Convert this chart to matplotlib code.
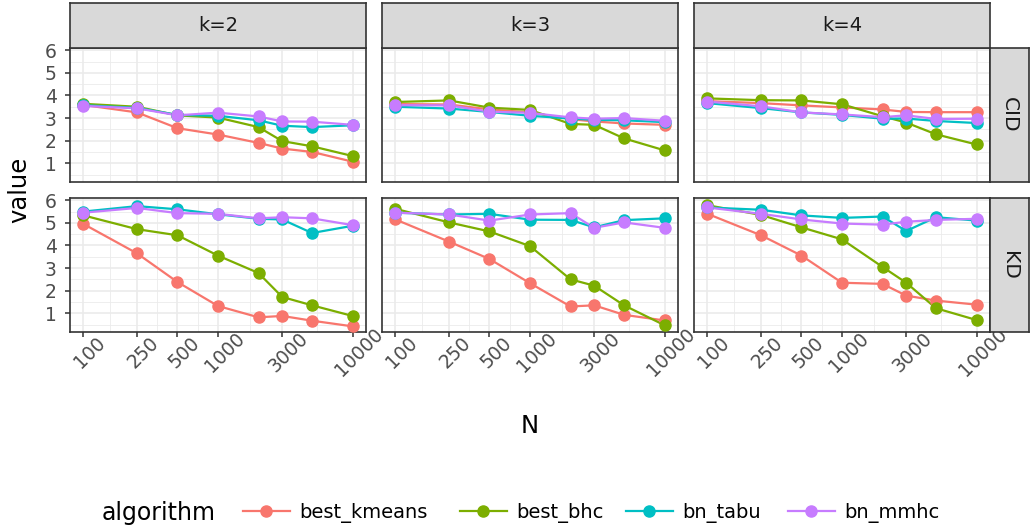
import matplotlib
matplotlib.use("Agg")
import matplotlib.pyplot as plt
from matplotlib.lines import Line2D
import numpy as np

plt.rcParams['font.family'] = ['DejaVu Sans']

# sample sizes and facet labels
n_values = [100, 250, 500, 1000, 2000, 3000, 5000, 10000]
n_ticks = [100, 250, 500, 1000, 3000, 10000]
k_labels = ["k=2", "k=3", "k=4"]
metric_labels = ["CID", "KD"]
algorithms = ["best_kmeans", "best_bhc", "bn_tabu", "bn_mmhc"]
colors = ["#F8766D", "#7CAE00", "#00BFC4", "#C77CFF"]

# CID, k=2
cid_k2_kmeans = [3.58, 3.25, 2.55, 2.27, 1.90, 1.65, 1.50, 1.07]
cid_k2_bhc = [3.63, 3.50, 3.12, 3.02, 2.60, 1.98, 1.75, 1.32]
cid_k2_tabu = [3.57, 3.45, 3.14, 3.10, 2.90, 2.66, 2.60, 2.68]
cid_k2_mmhc = [3.54, 3.43, 3.12, 3.24, 3.07, 2.85, 2.84, 2.70]
# CID, k=3
cid_k3_kmeans = [3.62, 3.60, 3.38, 3.25, 2.95, 2.85, 2.76, 2.70]
cid_k3_bhc = [3.71, 3.78, 3.46, 3.36, 2.74, 2.70, 2.10, 1.57]
cid_k3_tabu = [3.50, 3.42, 3.27, 3.10, 2.98, 2.92, 2.90, 2.82]
cid_k3_mmhc = [3.57, 3.56, 3.28, 3.23, 3.03, 2.97, 3.00, 2.88]
# CID, k=4
cid_k4_kmeans = [3.75, 3.66, 3.56, 3.47, 3.38, 3.27, 3.26, 3.26]
cid_k4_bhc = [3.87, 3.79, 3.78, 3.61, 3.08, 2.80, 2.28, 1.83]
cid_k4_tabu = [3.66, 3.44, 3.25, 3.14, 2.97, 2.98, 2.87, 2.78]
cid_k4_mmhc = [3.73, 3.52, 3.25, 3.16, 3.04, 3.12, 2.96, 2.97]
# KD, k=2
kd_k2_kmeans = [4.95, 3.65, 2.38, 1.32, 0.82, 0.88, 0.67, 0.42]
kd_k2_bhc = [5.33, 4.72, 4.45, 3.55, 2.78, 1.72, 1.35, 0.88]
kd_k2_tabu = [5.50, 5.74, 5.60, 5.38, 5.18, 5.15, 4.55, 4.87]
kd_k2_mmhc = [5.45, 5.66, 5.43, 5.40, 5.20, 5.25, 5.20, 4.90]
# KD, k=3
kd_k3_kmeans = [5.15, 4.17, 3.40, 2.33, 1.30, 1.35, 0.93, 0.68]
kd_k3_bhc = [5.62, 5.02, 4.62, 3.97, 2.50, 2.22, 1.35, 0.47]
kd_k3_tabu = [5.45, 5.37, 5.40, 5.14, 5.13, 4.80, 5.12, 5.20]
kd_k3_mmhc = [5.45, 5.37, 5.10, 5.37, 5.43, 4.78, 5.02, 4.78]
# KD, k=4
kd_k4_kmeans = [5.40, 4.45, 3.55, 2.35, 2.30, 1.78, 1.56, 1.38]
kd_k4_bhc = [5.78, 5.35, 4.80, 4.27, 3.05, 2.35, 1.22, 0.70]
kd_k4_tabu = [5.68, 5.58, 5.33, 5.22, 5.28, 4.64, 5.25, 5.10]
kd_k4_mmhc = [5.68, 5.40, 5.15, 4.97, 4.92, 5.05, 5.13, 5.18]

facets = [
    [[cid_k2_kmeans, cid_k2_bhc, cid_k2_tabu, cid_k2_mmhc],
     [cid_k3_kmeans, cid_k3_bhc, cid_k3_tabu, cid_k3_mmhc],
     [cid_k4_kmeans, cid_k4_bhc, cid_k4_tabu, cid_k4_mmhc]],
    [[kd_k2_kmeans, kd_k2_bhc, kd_k2_tabu, kd_k2_mmhc],
     [kd_k3_kmeans, kd_k3_bhc, kd_k3_tabu, kd_k3_mmhc],
     [kd_k4_kmeans, kd_k4_bhc, kd_k4_tabu, kd_k4_mmhc]],
]

W, H = 1030, 531
fig = plt.figure(figsize=(W / 100, H / 100), dpi=100)


def px_rect(x0, y0, x1, y1):
    # pixel box (from top-left) -> figure fraction
    return [x0 / W, (H - y1) / H, (x1 - x0) / W, (y1 - y0) / H]


col_x = [70, 382, 694]
panel_w = 296
row_y = [(48, 182), (198, 332)]
border = "#333333"
grid_col = "#EBEBEB"
LW = 1.6
MS = 8

log_lo, log_hi = np.log10(100), np.log10(10000)
pad = (log_hi - log_lo) * 0.05
xlim = (10 ** (log_lo - pad), 10 ** (log_hi + pad))
ylim = (0.17, 6.1)
minor_x = [10 ** ((np.log10(a) + np.log10(b)) / 2) for a, b in zip(n_ticks[:-1], n_ticks[1:])]

for r in range(2):
    for c in range(3):
        ax = fig.add_axes(px_rect(col_x[c], row_y[r][0], col_x[c] + panel_w, row_y[r][1]))
        ax.set_xscale("log")
        ax.set_xlim(*xlim)
        ax.set_ylim(*ylim)
        for v in n_ticks:
            ax.axvline(v, color=grid_col, lw=1.2, zorder=0)
        for v in minor_x:
            ax.axvline(v, color=grid_col, lw=0.6, zorder=0)
        for v in range(1, 7):
            ax.axhline(v, color=grid_col, lw=1.2, zorder=0)
        for v in np.arange(0.5, 6.0, 1.0):
            ax.axhline(v, color=grid_col, lw=0.6, zorder=0)

        series = facets[r][c]
        # lines first, then points (ggplot layer order)
        for vals, col in zip(series, colors):
            ax.plot(n_values, vals, color=col, lw=LW, zorder=2)
        for vals, col in zip(series, colors):
            ax.plot(n_values, vals, color=col, marker="o", ms=MS,
                    linestyle="none", zorder=3)

        ax.set_xticks(n_ticks)
        ax.xaxis.set_minor_locator(matplotlib.ticker.NullLocator())
        ax.set_yticks(range(1, 7))
        ax.tick_params(axis="both", colors=border, length=3.6, width=1.1,
                       labelcolor="#4D4D4D", labelsize=13.5, pad=6)
        if c == 0:
            ax.set_yticklabels([str(v) for v in range(1, 7)])
        else:
            ax.tick_params(axis="y", length=0, labelleft=False)
        if r == 1:
            ax.set_xticklabels([str(v) for v in n_ticks], rotation=45,
                               ha="center", va="top", rotation_mode="anchor")
        else:
            ax.tick_params(axis="x", length=0, labelbottom=False)
        for sp in ax.spines.values():
            sp.set_color(border)
            sp.set_linewidth(1.2)

# column strips
for c in range(3):
    sax = fig.add_axes(px_rect(col_x[c], 3, col_x[c] + panel_w, 48))
    sax.set_facecolor("#D9D9D9")
    sax.set_xticks([])
    sax.set_yticks([])
    for sp in sax.spines.values():
        sp.set_color(border)
        sp.set_linewidth(1.2)
    sax.text(0.5, 0.5, k_labels[c], ha="center", va="center", fontsize=14,
             color="#1A1A1A", transform=sax.transAxes)

# row strips
for r in range(2):
    sax = fig.add_axes(px_rect(990, row_y[r][0], 1029, row_y[r][1]))
    sax.set_facecolor("#D9D9D9")
    sax.set_xticks([])
    sax.set_yticks([])
    for sp in sax.spines.values():
        sp.set_color(border)
        sp.set_linewidth(1.2)
    sax.text(0.5, 0.5, metric_labels[r], ha="center", va="center", fontsize=14.5,
             color="#1A1A1A", rotation=-90, transform=sax.transAxes)

fig.text(19 / W, 1 - 190 / H, "value", rotation=90, ha="center", va="center", fontsize=17.5)
fig.text(530 / W, 1 - 426 / H, "N", ha="center", va="center", fontsize=17.5)

# legend along the bottom, one entry per key position
fig.text(102 / W, 1 - 513 / H, "algorithm", ha="left", va="center", fontsize=17)
key_x = [243, 460, 626, 788]
for kx, col, name in zip(key_x, colors, algorithms):
    h = Line2D([], [], color=col, lw=LW, marker="o", ms=MS)
    fig.legend([h], [name], loc="center left", bbox_to_anchor=(kx / W, 1 - 513 / H),
               frameon=False, fontsize=14, handlelength=2.4, handletextpad=0.5,
               borderpad=0, borderaxespad=0)

fig.savefig("out.png", dpi=100)
